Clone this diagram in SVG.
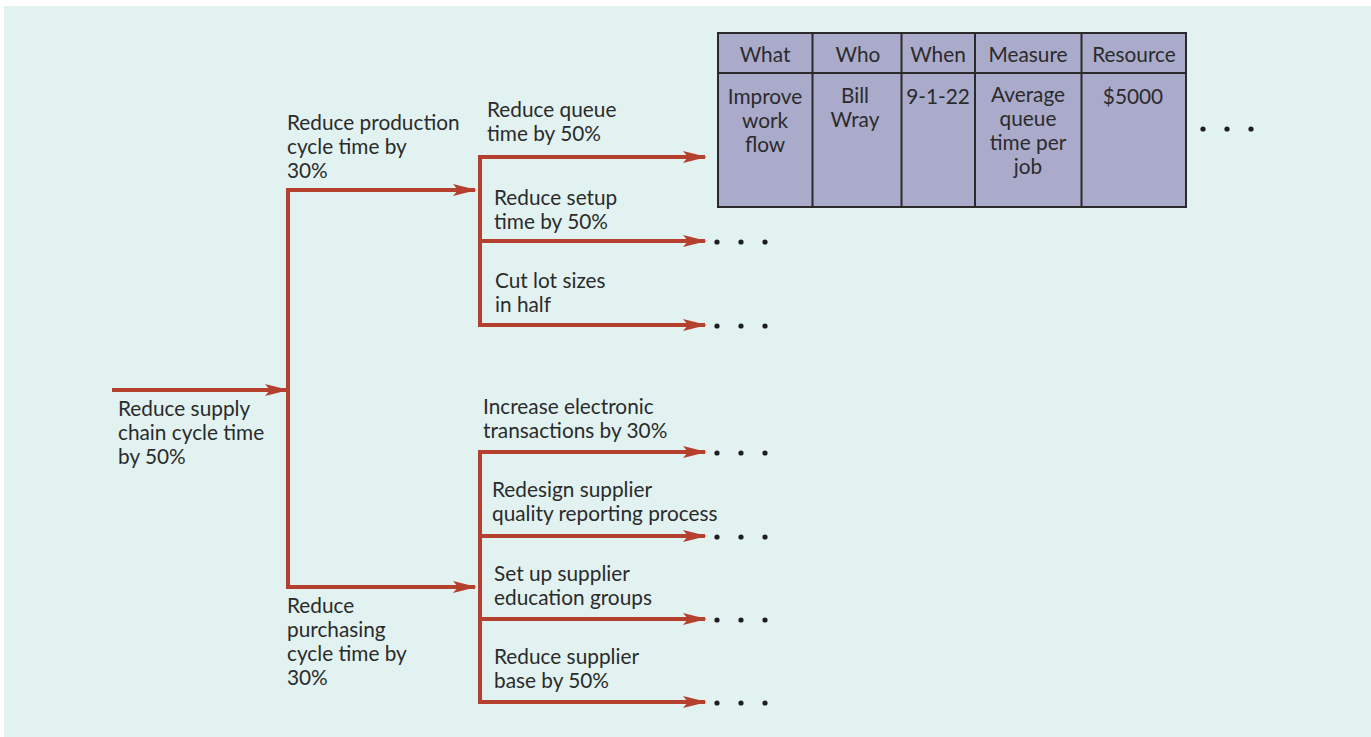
<svg xmlns="http://www.w3.org/2000/svg" width="1371" height="737" viewBox="0 0 1371 737">
<style>
.t{font-family:Lato,"Open Sans","Liberation Sans",sans-serif;font-size:20.8px;fill:#2b2b2b}
.c{text-anchor:middle}
.ln{stroke:#b5402d;stroke-width:4;fill:none}
.cell{fill:#aaaacb;stroke:#2a2a2a;stroke-width:2}
.dot{fill:#1e1e1e}
</style>
<defs>
<marker id="ah" viewBox="0 0 24 12" refX="22" refY="6" markerWidth="24" markerHeight="12" markerUnits="userSpaceOnUse" orient="auto">
<path d="M0,0 L24,6 L0,12 L5,6 Z" fill="#b5402d"/>
</marker>
</defs>
<rect x="0" y="0" width="1371" height="737" fill="#ffffff"/>
<rect x="4" y="6" width="1367" height="731" fill="#e1f2f1"/>
<g id="connectors">
<line class="ln" x1="112" y1="390" x2="287" y2="390" marker-end="url(#ah)"/>
<polyline class="ln" points="475,190 288,190 288,587 475,587"/>
<line class="ln" x1="288" y1="190" x2="475" y2="190" marker-end="url(#ah)"/>
<line class="ln" x1="288" y1="587" x2="475" y2="587" marker-end="url(#ah)"/>
<line class="ln" x1="480" y1="155" x2="480" y2="327"/>
<line class="ln" x1="478" y1="157" x2="705" y2="157" marker-end="url(#ah)"/>
<line class="ln" x1="480" y1="241" x2="705" y2="241" marker-end="url(#ah)"/>
<line class="ln" x1="478" y1="325" x2="705" y2="325" marker-end="url(#ah)"/>
<line class="ln" x1="480" y1="450" x2="480" y2="704"/>
<line class="ln" x1="478" y1="452" x2="705" y2="452" marker-end="url(#ah)"/>
<line class="ln" x1="480" y1="536" x2="705" y2="536" marker-end="url(#ah)"/>
<line class="ln" x1="480" y1="619" x2="705" y2="619" marker-end="url(#ah)"/>
<line class="ln" x1="478" y1="702" x2="705" y2="702" marker-end="url(#ah)"/>
</g>
<g id="root">
<text class="t" x="118" y="416">Reduce supply</text>
<text class="t" x="118" y="440">chain cycle time</text>
<text class="t" x="118" y="464">by 50%</text>
</g>
<g id="production">
<text class="t" x="287" y="130">Reduce production</text>
<text class="t" x="287" y="154">cycle time by</text>
<text class="t" x="287" y="178">30%</text>
</g>
<g id="purchasing">
<text class="t" x="287" y="613">Reduce</text>
<text class="t" x="287" y="637">purchasing</text>
<text class="t" x="287" y="661">cycle time by</text>
<text class="t" x="287" y="685">30%</text>
</g>
<g id="queue">
<text class="t" x="487" y="117">Reduce queue</text>
<text class="t" x="487" y="141">time by 50%</text>
</g>
<g id="setup">
<text class="t" x="494" y="205">Reduce setup</text>
<text class="t" x="494" y="229">time by 50%</text>
<circle class="dot" cx="717" cy="242" r="2.6"/><circle class="dot" cx="741" cy="242" r="2.6"/><circle class="dot" cx="765" cy="242" r="2.6"/>
</g>
<g id="lots">
<text class="t" x="495" y="288">Cut lot sizes</text>
<text class="t" x="495" y="312">in half</text>
<circle class="dot" cx="717" cy="326" r="2.6"/><circle class="dot" cx="741" cy="326" r="2.6"/><circle class="dot" cx="765" cy="326" r="2.6"/>
</g>
<g id="electronic">
<text class="t" x="483" y="414">Increase electronic</text>
<text class="t" x="483" y="438">transactions by 30%</text>
<circle class="dot" cx="717" cy="453" r="2.6"/><circle class="dot" cx="741" cy="453" r="2.6"/><circle class="dot" cx="765" cy="453" r="2.6"/>
</g>
<g id="redesign">
<text class="t" x="492" y="497">Redesign supplier</text>
<text class="t" x="492" y="521">quality reporting process</text>
<circle class="dot" cx="717" cy="537" r="2.6"/><circle class="dot" cx="741" cy="537" r="2.6"/><circle class="dot" cx="765" cy="537" r="2.6"/>
</g>
<g id="education">
<text class="t" x="494" y="581">Set up supplier</text>
<text class="t" x="494" y="605">education groups</text>
<circle class="dot" cx="717" cy="620" r="2.6"/><circle class="dot" cx="741" cy="620" r="2.6"/><circle class="dot" cx="765" cy="620" r="2.6"/>
</g>
<g id="base">
<text class="t" x="494" y="664">Reduce supplier</text>
<text class="t" x="494" y="688">base by 50%</text>
<circle class="dot" cx="717" cy="703" r="2.6"/><circle class="dot" cx="741" cy="703" r="2.6"/><circle class="dot" cx="765" cy="703" r="2.6"/>
</g>
<g id="table">
<rect class="cell" x="718" y="33" width="468" height="174"/>
<line class="cell" x1="718" y1="73" x2="1186" y2="73"/>
<line class="cell" x1="812.5" y1="33" x2="812.5" y2="207"/>
<line class="cell" x1="901.5" y1="33" x2="901.5" y2="207"/>
<line class="cell" x1="975" y1="33" x2="975" y2="207"/>
<line class="cell" x1="1081.5" y1="33" x2="1081.5" y2="207"/>
<text class="t c" x="765" y="62">What</text>
<text class="t c" x="858" y="62">Who</text>
<text class="t c" x="938" y="62">When</text>
<text class="t c" x="1028" y="62">Measure</text>
<text class="t c" x="1134" y="62">Resource</text>
<text class="t c" x="765" y="104">Improve</text>
<text class="t c" x="765" y="128">work</text>
<text class="t c" x="765" y="152">flow</text>
<text class="t c" x="855" y="103">Bill</text>
<text class="t c" x="855" y="127">Wray</text>
<text class="t c" x="938" y="104">9-1-22</text>
<text class="t c" x="1028" y="102">Average</text>
<text class="t c" x="1028" y="126">queue</text>
<text class="t c" x="1028" y="150">time per</text>
<text class="t c" x="1028" y="174">job</text>
<text class="t c" x="1133" y="104">$5000</text>
<circle class="dot" cx="1203" cy="129" r="2.6"/><circle class="dot" cx="1227" cy="129" r="2.6"/><circle class="dot" cx="1251" cy="129" r="2.6"/>
</g>
</svg>
